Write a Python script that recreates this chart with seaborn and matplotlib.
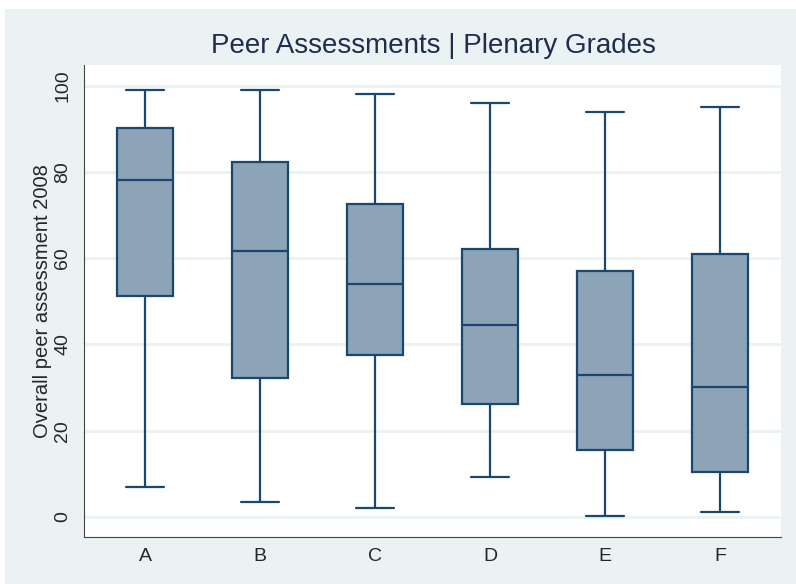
import matplotlib
matplotlib.use("Agg")
import matplotlib.pyplot as plt
from matplotlib.patches import Rectangle
import numpy as np
import seaborn as sns
import pandas as pd

# five-number summaries: min, q1, median, q3, max
grades = ["A", "B", "C", "D", "E", "F"]
grade_a = [7, 51.3, 78.3, 90.2, 99]
grade_b = [3.4, 32.3, 61.8, 82.3, 99]
grade_c = [2.0, 37.6, 54.1, 72.7, 98.2]
grade_d = [9.2, 26.2, 44.6, 62.2, 96.1]
grade_e = [0.2, 15.5, 32.9, 57.1, 94.1]
grade_f = [1.1, 10.4, 30.2, 61.0, 95.2]
yticks = [0, 20, 40, 60, 80, 100]

rows = []
for g, vals in zip(grades, [grade_a, grade_b, grade_c, grade_d, grade_e, grade_f]):
    for v in vals:
        rows.append((g, v))
df = pd.DataFrame(rows, columns=["grade", "score"])

bg = "#EAF2F3"
navy = "#1A476F"

sns.set_style("white")
plt.rcParams["font.family"] = ["Liberation Sans", "DejaVu Sans"]

fig = plt.figure(figsize=(7.96, 5.84), dpi=100)
fig.patch.set_facecolor("white")
fig.patches.append(Rectangle((5 / 796, 0), 1, (584 - 9) / 584, transform=fig.transFigure,
                             facecolor=bg, edgecolor="none", zorder=-10))
ax = fig.add_axes([84 / 796, 47 / 584, 697 / 796, 472 / 584])

sns.boxplot(data=df, x="grade", y="score", order=grades, whis=(0, 100),
            color="#8CA3B8", saturation=1, width=0.49, linecolor=navy,
            linewidth=1.6, capwidths=0.33, ax=ax)

ax.set_xlim(-0.53, 5.53)
ax.set_ylim(-4.7, 104.9)
ax.set_yticks(yticks)
ax.set_yticklabels([str(t) for t in yticks], rotation=90, va="center", fontsize=14)
ax.tick_params(axis="y", length=6, width=1, color="#555555", pad=3)
ax.tick_params(axis="x", length=0, labelsize=14, pad=8)
for t in yticks:
    ax.axhline(t, color=bg, lw=2, zorder=0)

ax.spines["top"].set_visible(False)
ax.spines["right"].set_visible(False)
ax.spines["left"].set_color("#444444")
ax.spines["bottom"].set_color("#444444")

ax.set_xlabel("")
ax.set_ylabel("Overall peer assessment 2008", fontsize=14.5, labelpad=2)
fig.text(433 / 796, 1 - 46 / 584, "Peer Assessments | Plenary Grades",
         ha="center", va="center", fontsize=20, color="#1F2D4E")

fig.savefig("out.png", dpi=100)
